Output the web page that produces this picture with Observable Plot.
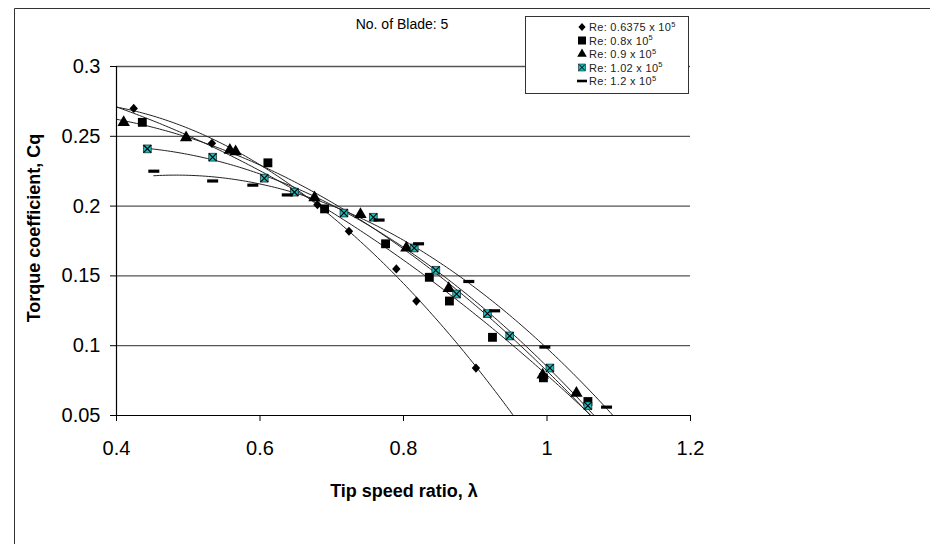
<!DOCTYPE html>
<html><head><meta charset="utf-8">
<script src="https://cdn.jsdelivr.net/npm/d3@7"></script>
<script src="https://cdn.jsdelivr.net/npm/@observablehq/plot@0.6"></script>
<style>
body{margin:0;background:#fff;}
#chart{position:relative;width:938px;height:544px;}
</style></head><body><div id="chart"></div>
<script>
// ---- data ----
const seriesNames = ["Re: 0.6375 x 10", "Re: 0.8x 10", "Re: 0.9 x 10", "Re: 1.02 x 10", "Re: 1.2 x 10"];
const xRe0637 = [0.424, 0.533, 0.680, 0.724, 0.790, 0.818, 0.901];
const yRe0637 = [0.270, 0.245, 0.201, 0.182, 0.155, 0.132, 0.084];
const xRe08 = [0.436, 0.611, 0.690, 0.775, 0.836, 0.864, 0.924, 0.995, 1.057];
const yRe08 = [0.260, 0.231, 0.198, 0.173, 0.149, 0.132, 0.106, 0.077, 0.060];
const xRe09 = [0.410, 0.497, 0.558, 0.566, 0.676, 0.740, 0.804, 0.863, 0.994, 1.041];
const yRe09 = [0.260, 0.249, 0.240, 0.239, 0.206, 0.194, 0.170, 0.141, 0.079, 0.066];
const xRe102 = [0.443, 0.534, 0.606, 0.648, 0.717, 0.758, 0.815, 0.845, 0.874, 0.917, 0.948, 1.004, 1.057];
const yRe102 = [0.241, 0.235, 0.220, 0.210, 0.195, 0.192, 0.170, 0.154, 0.137, 0.123, 0.107, 0.084, 0.057];
const xRe12 = [0.452, 0.534, 0.590, 0.638, 0.766, 0.821, 0.891, 0.927, 0.997, 1.083];
const yRe12 = [0.225, 0.218, 0.215, 0.208, 0.190, 0.173, 0.146, 0.125, 0.099, 0.056];
const trendFrom = [0.40, 0.40, 0.40, 0.443, 0.452];
const xTicks = [0.4, 0.6, 0.8, 1, 1.2];
const yTicks = [0.05, 0.1, 0.15, 0.2, 0.25, 0.3];
const gridValues = [0.1, 0.15, 0.2, 0.25, 0.3];
const titleText = "No. of Blade: 5";
const xLabel = "Tip speed ratio, \u03bb";
const yLabel = "Torque coefficient, Cq";

const xs = [xRe0637, xRe08, xRe09, xRe102, xRe12];
const ys = [yRe0637, yRe08, yRe09, yRe102, yRe12];
const points = [];
xs.forEach((arr, s) => arr.forEach((x, i) => points.push({s, x, y: ys[s][i]})));

// quadratic least-squares trendline (like a spreadsheet polynomial trendline)
function quadFit(X, Y) {
  let S = [0,0,0,0,0], T = [0,0,0];
  X.forEach((x, i) => {
    for (let k = 0; k < 5; k++) S[k] += x ** k;
    for (let k = 0; k < 3; k++) T[k] += Y[i] * x ** k;
  });
  const M = [[S[0],S[1],S[2]],[S[1],S[2],S[3]],[S[2],S[3],S[4]]];
  const det = m => m[0][0]*(m[1][1]*m[2][2]-m[1][2]*m[2][1]) - m[0][1]*(m[1][0]*m[2][2]-m[1][2]*m[2][0]) + m[0][2]*(m[1][0]*m[2][1]-m[1][1]*m[2][0]);
  const D = det(M);
  const c = [0,1,2].map(j => det(M.map((row, r) => row.map((v, k) => k === j ? T[r] : v))) / D);
  return x => c[0] + c[1]*x + c[2]*x*x;
}
const trend = [];
xs.forEach((arr, s) => {
  const f = quadFit(arr, ys[s]);
  for (let x = trendFrom[s]; x <= 1.15; x += 0.004) {
    const y = f(x);
    trend.push({s, x, y});
    if (y < 0.045) break;
  }
});

const dash = {draw(ctx) { ctx.moveTo(-5.5,-1.6); ctx.lineTo(5.5,-1.6); ctx.lineTo(5.5,1.6); ctx.lineTo(-5.5,1.6); ctx.closePath(); }};
const rhombus = {draw(ctx) { ctx.moveTo(0,-4.6); ctx.lineTo(4.2,0); ctx.lineTo(0,4.6); ctx.lineTo(-4.2,0); ctx.closePath(); }};

const plot = Plot.plot({
  width: 938, height: 544,
  marginLeft: 116, marginRight: 248, marginTop: 66, marginBottom: 129,
  style: {fontFamily: "'Liberation Sans', Arial, sans-serif", background: "transparent", color: "#000", overflow: "visible"},
  x: {domain: [0.4, 1.2]},
  y: {domain: [0.05, 0.3]},
  marks: [
    Plot.ruleY(gridValues, {x1: 0.4, x2: 1.2, stroke: "#555", strokeWidth: 1.3}),
    Plot.line(trend, {x: "x", y: "y", z: "s", stroke: "#222", strokeWidth: 1, clip: true}),
    Plot.dot(points.filter(d => d.s === 0), {x: "x", y: "y", symbol: rhombus, fill: "#000"}),
    Plot.dot(points.filter(d => d.s === 1), {x: "x", y: "y", symbol: "square", r: 5, fill: "#000"}),
    Plot.dot(points.filter(d => d.s === 2), {x: "x", y: "y", symbol: "triangle", r: 4.6, fill: "#000"}),
    Plot.dot(points.filter(d => d.s === 3), {x: "x", y: "y", symbol: "square", r: 4.4, fill: "#1fbcbc", stroke: "#000", strokeWidth: 0.6}),
    Plot.dot(points.filter(d => d.s === 3), {x: "x", y: "y", symbol: "times", r: 3.6, stroke: "#000", strokeWidth: 1.1}),
    Plot.dot(points.filter(d => d.s === 4), {x: "x", y: "y", symbol: dash, fill: "#000"}),
    Plot.ruleX([0.4], {y1: 0.05, y2: 0.3, stroke: "#000", strokeWidth: 1.2}),
    Plot.ruleY([0.05], {x1: 0.4, x2: 1.2, stroke: "#000", strokeWidth: 1.2}),
    Plot.axisX({ticks: xTicks, tickFormat: d => String(d), tickSize: 6, tickPadding: 19, fontSize: 20, label: null}),
    Plot.axisY({ticks: yTicks, tickFormat: d => String(d), tickSize: 6, tickPadding: 10, fontSize: 20, label: null})
  ]
});
document.getElementById("chart").appendChild(plot);

const svg = d3.select(plot);
const ns = "'Liberation Sans', Arial, sans-serif";
// outer frame
svg.append("path").attr("d", "M14.5,544V8.5H930").attr("fill", "none").attr("stroke", "#333").attr("stroke-width", 1);
// title
svg.append("text").attr("x", 402).attr("y", 29).attr("text-anchor", "middle").attr("font-size", 14).attr("font-family", ns).text(titleText);
// axis titles
svg.append("text").attr("x", 404).attr("y", 497).attr("text-anchor", "middle").attr("font-size", 18).attr("font-weight", "bold").attr("font-family", ns).text(xLabel);
svg.append("text").attr("transform", "translate(40,228) rotate(-90)").attr("text-anchor", "middle").attr("font-size", 18).attr("font-weight", "bold").attr("font-family", ns).text(yLabel);
// legend
const lg = svg.append("g").attr("text-anchor", "start");
lg.append("rect").attr("x", 525.5).attr("y", 16.5).attr("width", 163).attr("height", 77).attr("fill", "#fff").attr("stroke", "#333");
seriesNames.forEach((name, i) => {
  const cy = 27 + i * 13.5;
  const g = lg.append("g").attr("transform", `translate(582,${cy})`);
  if (i === 0) g.append("path").attr("d", "M0,-4L3.6,0L0,4L-3.6,0Z").attr("fill", "#000");
  else if (i === 1) g.append("rect").attr("x", -4).attr("y", -4).attr("width", 8).attr("height", 8).attr("fill", "#000");
  else if (i === 2) g.append("path").attr("d", d3.symbol(d3.symbolTriangle, 40)()).attr("fill", "#000");
  else if (i === 3) {
    g.append("rect").attr("x", -3.5).attr("y", -3.5).attr("width", 7).attr("height", 7).attr("fill", "#1fbcbc").attr("stroke", "#000").attr("stroke-width", 0.5);
    g.append("path").attr("d", "M-2.8,-2.8L2.8,2.8M2.8,-2.8L-2.8,2.8").attr("stroke", "#000").attr("stroke-width", 1);
  } else g.append("rect").attr("x", -5).attr("y", -1.3).attr("width", 10).attr("height", 2.6).attr("fill", "#000");
  const t = lg.append("text").attr("x", 589).attr("y", cy + 4).attr("font-size", 11).attr("letter-spacing", 0.3).attr("font-family", ns).attr("fill", "#222").attr("text-anchor", "start").text(name);
  t.append("tspan").attr("dy", -4.5).attr("font-size", 7.5).text("5");
});
</script></body></html>
